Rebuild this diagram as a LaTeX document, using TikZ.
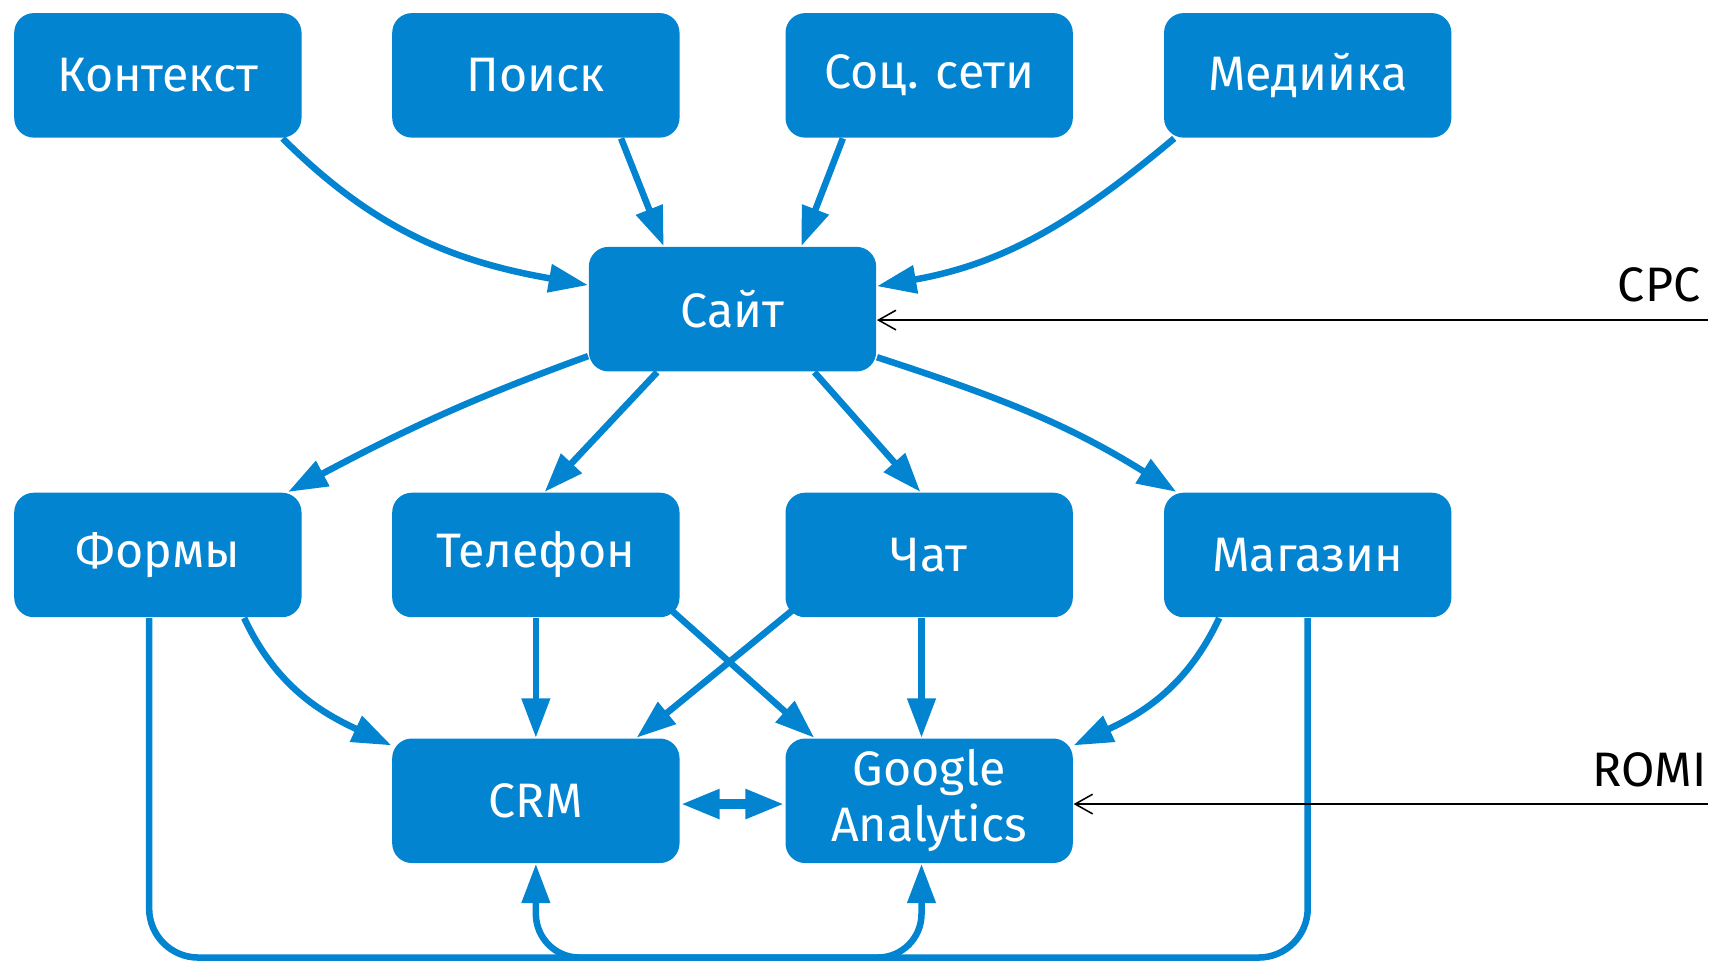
\documentclass[tikz,border=0pt]{standalone}
\usepackage{fontspec}
\setmainfont{Fira Sans}
\usetikzlibrary{arrows.meta}
\definecolor{boxblue}{RGB}{2,132,209}

\begin{document}
\begin{tikzpicture}[
		box/.style={fill=boxblue, text=white, rounded corners=0.18cm, minimum width=2.63cm, minimum height=1.14cm, inner sep=0pt, align=center, font=\fontsize{12.6}{14.5}\selectfont},
		flow/.style={draw=boxblue, line width=1.7pt, -{Triangle[length=0.36cm, width=0.25cm]}},
		link/.style={draw=boxblue, line width=1.7pt},
		metric/.style={draw=black, line width=0.7pt, -{Straight Barb[length=0.16cm, width=0.18cm, line width=0.4pt]}},
		tag/.style={font=\fontsize{12.6}{14.5}\selectfont, inner sep=0pt}
	]
		\useasboundingbox (0,0) rectangle (15.68,8.81);
		% sources
		\node[box] (kontekst) at (1.445,8.12) {Контекст};
		\node[box] (poisk) at (4.905,8.12) {Поиск};
		\node[box] (soc) at (8.505,8.12) {Соц. сети};
		\node[box] (media) at (11.97,8.12) {Медийка};
		\node[box] (site) at (6.705,5.98) {Сайт};
		% channels
		\node[box] (formy) at (1.445,3.73) {Формы};
		\node[box] (tel) at (4.905,3.73) {Телефон};
		\node[box] (chat) at (8.505,3.73) {Чат};
		\node[box] (mag) at (11.97,3.73) {Магазин};
		\node[box] (crm) at (4.905,1.48) {CRM};
		\node[box] (ga) at (8.505,1.48) {Google\\Analytics};
		% traffic to the site
		\draw[flow] ([xshift=-0.18cm]kontekst.south east) to[out=-45, in=170] ([yshift=0.22cm]site.west);
		\draw[flow] ([xshift=0.78cm]poisk.south) -- ([xshift=-0.63cm]site.north);
		\draw[flow] ([xshift=-0.79cm]soc.south) -- ([xshift=0.63cm]site.north);
		\draw[flow] ([xshift=0.1cm]media.south west) to[out=-140, in=10] ([yshift=0.21cm]site.east);
		% site to channels
		\draw[flow] ([yshift=-0.43cm]site.west) to[out=-160, in=28] ([xshift=-0.13cm]formy.north east);
		\draw[flow] ([xshift=-0.69cm]site.south) -- ([xshift=0.08cm]tel.north);
		\draw[flow] ([xshift=0.75cm]site.south) -- ([xshift=-0.08cm]chat.north);
		\draw[flow] ([yshift=-0.44cm]site.east) to[out=-18, in=148] ([xshift=0.12cm]mag.north west);
		% channels to crm and analytics
		\draw[flow] ([xshift=0.79cm]formy.south) to[out=-65, in=155] ([yshift=-0.07cm]crm.north west);
		\draw[flow] (tel.south) -- (crm.north);
		\draw[flow] ([xshift=-0.08cm, yshift=0.07cm]tel.south east) -- ([xshift=0.27cm]ga.north west);
		\draw[flow] ([xshift=0.07cm, yshift=0.07cm]chat.south west) -- ([xshift=-0.40cm]crm.north east);
		\draw[flow] ([xshift=-0.07cm]chat.south) -- ([xshift=-0.07cm]ga.north);
		\draw[flow] ([xshift=-0.81cm]mag.south) to[out=-115, in=25] ([yshift=-0.07cm]ga.north east);
		\draw[link, line width=2.6pt, {Triangle[length=0.36cm, width=0.25cm]}-{Triangle[length=0.36cm, width=0.25cm]}] ([yshift=-0.03cm]crm.east) -- ([yshift=-0.03cm]ga.west);
		% bottom loop
		\coordinate (bot) at (6.7,0.045);
		\draw[link, rounded corners=0.45cm] ([xshift=-0.08cm]formy.south) |- (bot) -| (mag.south);
		\draw[flow, rounded corners=0.4cm] (bot) -| (crm.south);
		\draw[flow, rounded corners=0.4cm] (bot) -| ([xshift=-0.07cm]ga.south);
		% metrics
		\coordinate (cpc) at (15.63,5.88);
		\draw[metric] (cpc) -- (cpc -| site.east);
		\node[tag, anchor=base east] (cpclabel) at (15.57,6.05) {CPC};
		\coordinate (romi) at (15.63,1.45);
		\draw[metric] (romi) -- (romi -| ga.east);
		\node[tag, anchor=base east] (romilabel) at (15.63,1.61) {ROMI};
	\end{tikzpicture}
\end{document}
